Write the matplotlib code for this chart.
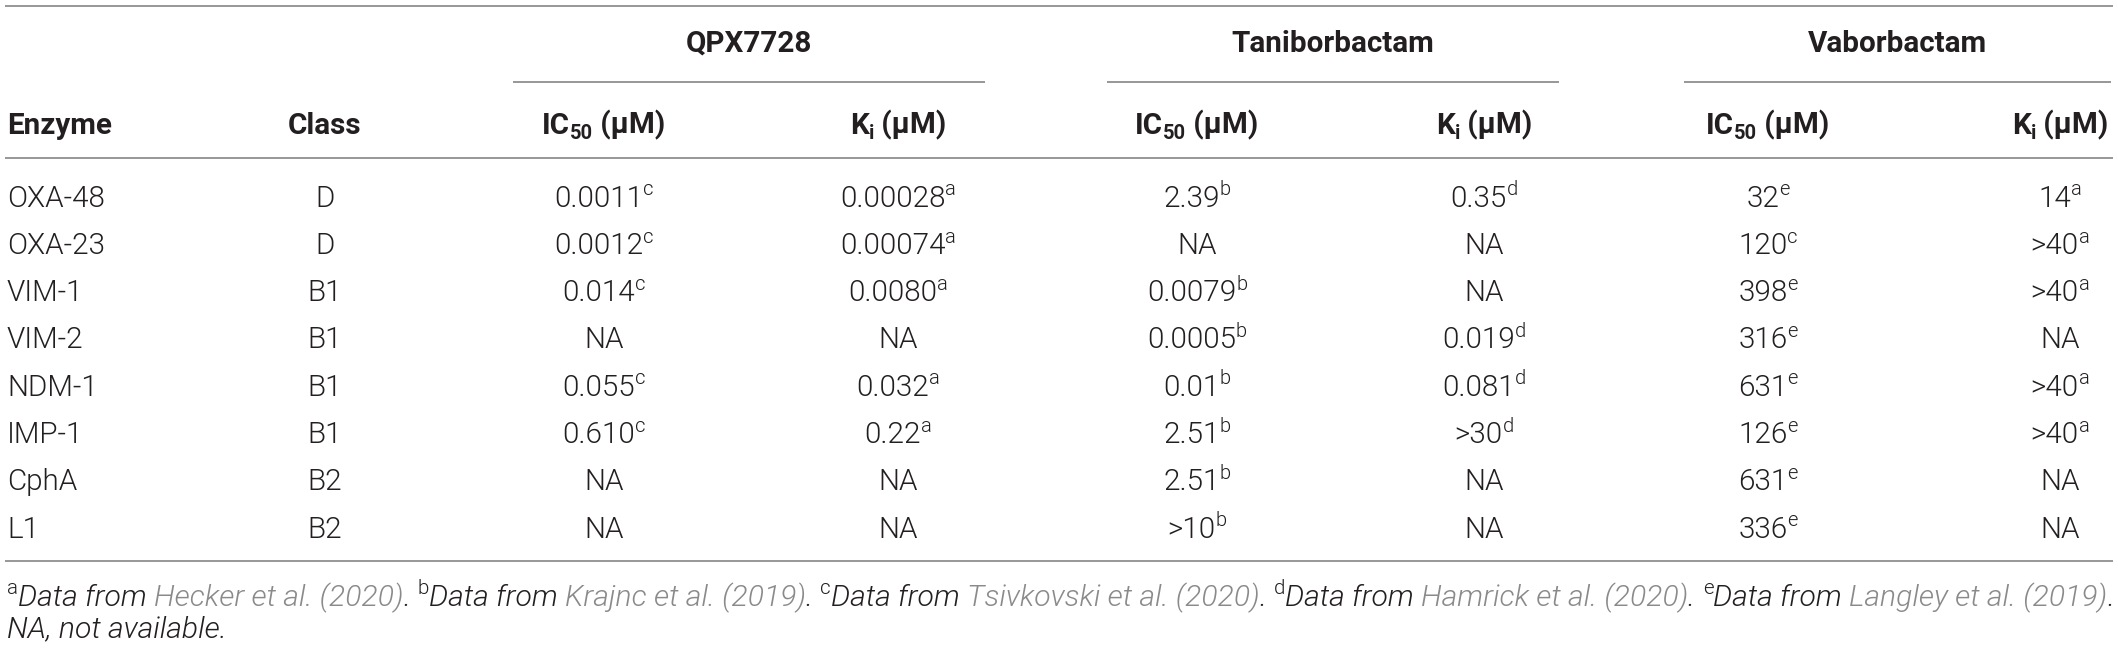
import matplotlib
matplotlib.use("Agg")
import matplotlib.pyplot as plt
from matplotlib import font_manager

# table content
enzymes = ["OXA-48", "OXA-23", "VIM-1", "VIM-2", "NDM-1", "IMP-1", "CphA", "L1"]
classes = ["D", "D", "B1", "B1", "B1", "B1", "B2", "B2"]
qpx_ic50 = ["0.0011^c", "0.0012^c", "0.014^c", "NA", "0.055^c", "0.610^c", "NA", "NA"]
qpx_ki = ["0.00028^a", "0.00074^a", "0.0080^a", "NA", "0.032^a", "0.22^a", "NA", "NA"]
tani_ic50 = ["2.39^b", "NA", "0.0079^b", "0.0005^b", "0.01^b", "2.51^b", "2.51^b", ">10^b"]
tani_ki = ["0.35^d", "NA", "NA", "0.019^d", "0.081^d", ">30^d", "NA", "NA"]
vab_ic50 = ["32^e", "120^c", "398^e", "316^e", "631^e", "126^e", "631^e", "336^e"]
vab_ki = ["14^a", ">40^a", ">40^a", "NA", ">40^a", ">40^a", "NA", "NA"]

groups = ["QPX7728", "Taniborbactam", "Vaborbactam"]
refs = [("a", "Hecker et al. (2020)"), ("b", "Krajnc et al. (2019)"),
        ("c", "Tsivkovski et al. (2020)"), ("d", "Hamrick et al. (2020)"),
        ("e", "Langley et al. (2019)")]

W, H = 2118, 650
TEXT = "#231f20"
LINK = "#8a8a8a"
RULE = "#8f8f8f"

installed = {}
for f in font_manager.fontManager.ttflist:
    installed.setdefault(f.name, set()).add(f.weight)
FAMILY = next(f for f in ["Roboto", "Liberation Sans", "DejaVu Sans"] if f in installed)
LIGHT = 300 if any(w in (300, "light") for w in installed[FAMILY]) else "normal"

fig = plt.figure(figsize=(W / 100, H / 100), dpi=100)
ax = fig.add_axes([0, 0, 1, 1])
ax.set_xlim(0, W)
ax.set_ylim(H, 0)
ax.axis("off")
renderer = fig.canvas.get_renderer()
px_per_pt = 100 / 72


def text_width(s, size, weight, style):
    t = ax.text(0, 0, s, fontsize=size, fontweight=weight, fontstyle=style, family=FAMILY)
    bb = t.get_window_extent(renderer)
    t.remove()
    return bb.width


def measure(runs, size, weight):
    total = 0
    for r in runs:
        style = r[2] if len(r) > 2 else "normal"
        sz = size if r[1] == "n" else size * 0.68
        total += text_width(r[0], sz, weight, style)
    return total


def draw_runs(x, y_mid, runs, align="center", size=20, weight=LIGHT, color=TEXT):
    # runs: (text, kind[, style[, color]]) with kind n / sup / sub; y_mid = cap centre
    y = y_mid + size * px_per_pt * 0.355
    cx = x - measure(runs, size, weight) / 2 if align == "center" else x
    for r in runs:
        s, kind = r[0], r[1]
        style = r[2] if len(r) > 2 else "normal"
        col = r[3] if len(r) > 3 else color
        sz = size if kind == "n" else size * 0.68
        dy = {"n": 0, "sup": -size * px_per_pt * 0.38, "sub": size * px_per_pt * 0.18}[kind]
        ax.text(cx, y + dy, s, fontsize=sz, fontweight=weight, fontstyle=style,
                family=FAMILY, color=col, ha="left", va="baseline")
        cx += text_width(s, sz, weight, style)


def cell_runs(value):
    if "^" in value:
        base, sup = value.split("^")
        return [(base, "n"), (sup, "sup")]
    return [(value, "n")]


def hline(x0, x1, y):
    ax.plot([x0, x1], [y, y], color=RULE, lw=1.3, solid_capstyle="butt")


# body size chosen so that "OXA-48" is about as wide as in the reference
FS = 20 * 98 / measure([("OXA-48", "n")], 20, LIGHT)
HS = FS * 1.0

# rules
hline(5, 2113, 6)
hline(5, 2113, 158)
hline(5, 2113, 561)
group_spans = [(513, 985), (1107, 1559), (1684, 2111)]
for (x0, x1), name in zip(group_spans, groups):
    hline(x0, x1, 82)
    draw_runs((x0 + x1) / 2, 41, [(name, "n")], size=HS, weight="bold")

# column headers
ic50 = [("IC", "n"), ("50", "sub"), (" (\u00b5M)", "n")]
ki = [("K", "n"), ("i", "sub"), (" (\u00b5M)", "n")]
draw_runs(7, 123, [("Enzyme", "n")], align="left", size=HS, weight="bold")
draw_runs(325, 123, [("Class", "n")], size=HS, weight="bold")
col_x = [604, 898, 1197, 1484, 1768, 2060]
for hx, runs in zip(col_x, [ic50, ki, ic50, ki, ic50, ki]):
    draw_runs(hx, 123, runs, size=HS, weight="bold")

# body
value_cols = [qpx_ic50, qpx_ki, tani_ic50, tani_ki, vab_ic50, vab_ki]
for i, name in enumerate(enzymes):
    y = 196 + i * 47.3
    draw_runs(7, y, [(name, "n")], align="left", size=FS)
    draw_runs(325, y, [(classes[i], "n")], size=FS)
    for col, vx in zip(value_cols, col_x):
        draw_runs(vx, y, cell_runs(col[i]), size=FS)

# footnotes, scaled to span the table width
runs = []
for k, (letter, cite) in enumerate(refs):
    runs += [(letter, "sup", "normal"), ("Data from ", "n", "italic"),
             (cite, "n", "italic", LINK), (". " if k < len(refs) - 1 else ".", "n", "italic")]
NS = 20 * 2105 / measure(runs, 20, LIGHT)
draw_runs(7, 595, runs, align="left", size=NS)
draw_runs(7, 627, [("NA, not available.", "n", "italic")], align="left", size=NS)

fig.savefig("out.png", dpi=100)
